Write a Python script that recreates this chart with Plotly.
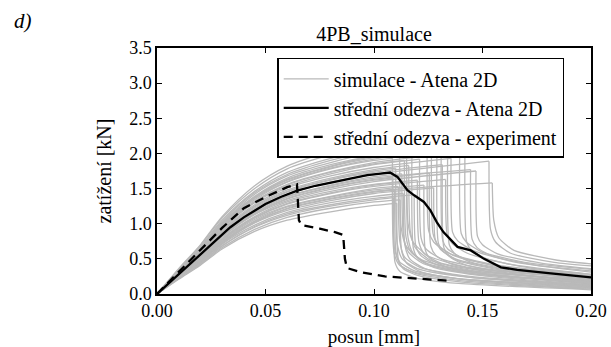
import plotly.graph_objects as go

# ---------------- data ----------------
RISE_X = [0, 0.01, 0.02, 0.03, 0.045, 0.06, 0.08, 0.10]

SIM_RISE_Y = [
    [0, 0.21, 0.41, 0.64, 0.89, 1.05, 1.17, 1.26],
    [0, 0.22, 0.42, 0.66, 0.92, 1.09, 1.22, 1.31],
    [0, 0.22, 0.43, 0.68, 0.95, 1.12, 1.25, 1.34],
    [0, 0.22, 0.44, 0.69, 0.96, 1.14, 1.27, 1.36],
    [0, 0.23, 0.45, 0.71, 0.98, 1.16, 1.30, 1.39],
    [0, 0.24, 0.46, 0.72, 1.01, 1.19, 1.33, 1.43],
    [0, 0.24, 0.47, 0.73, 1.02, 1.21, 1.35, 1.45],
    [0, 0.24, 0.47, 0.74, 1.03, 1.22, 1.36, 1.46],
    [0, 0.24, 0.48, 0.75, 1.04, 1.24, 1.38, 1.48],
    [0, 0.25, 0.48, 0.76, 1.06, 1.25, 1.39, 1.50],
    [0, 0.25, 0.50, 0.77, 1.08, 1.28, 1.43, 1.53],
    [0, 0.25, 0.50, 0.78, 1.09, 1.29, 1.44, 1.55],
    [0, 0.26, 0.51, 0.79, 1.10, 1.31, 1.46, 1.56],
    [0, 0.26, 0.52, 0.81, 1.13, 1.33, 1.49, 1.60],
    [0, 0.27, 0.52, 0.82, 1.14, 1.35, 1.51, 1.62],
    [0, 0.27, 0.53, 0.83, 1.15, 1.36, 1.52, 1.63],
    [0, 0.27, 0.53, 0.83, 1.16, 1.38, 1.54, 1.65],
    [0, 0.27, 0.54, 0.84, 1.18, 1.39, 1.55, 1.67],
    [0, 0.28, 0.55, 0.86, 1.20, 1.42, 1.59, 1.70],
    [0, 0.29, 0.56, 0.88, 1.22, 1.45, 1.62, 1.73],
    [0, 0.29, 0.57, 0.89, 1.24, 1.46, 1.63, 1.75],
    [0, 0.29, 0.57, 0.89, 1.25, 1.48, 1.65, 1.77],
    [0, 0.30, 0.58, 0.91, 1.27, 1.51, 1.68, 1.80],
    [0, 0.30, 0.59, 0.93, 1.30, 1.53, 1.71, 1.84],
    [0, 0.31, 0.60, 0.94, 1.31, 1.55, 1.73, 1.85],
    [0, 0.31, 0.61, 0.95, 1.32, 1.56, 1.74, 1.87],
    [0, 0.31, 0.62, 0.96, 1.34, 1.59, 1.78, 1.90],
    [0, 0.32, 0.62, 0.97, 1.36, 1.60, 1.79, 1.92],
    [0, 0.32, 0.63, 0.98, 1.37, 1.62, 1.81, 1.94],
    [0, 0.32, 0.63, 0.99, 1.38, 1.63, 1.82, 1.96],
    [0, 0.32, 0.64, 1.00, 1.39, 1.65, 1.84, 1.97],
    [0, 0.33, 0.65, 1.01, 1.42, 1.68, 1.87, 2.01],
    [0, 0.34, 0.66, 1.03, 1.44, 1.70, 1.90, 2.04],
    [0, 0.34, 0.67, 1.05, 1.46, 1.73, 1.93, 2.07],
    [0, 0.35, 0.69, 1.08, 1.50, 1.78, 1.98, 2.13],
    [0, 0.36, 0.70, 1.10, 1.54, 1.82, 2.03, 2.18],
]

SIM_DROP_X = [0.1105, 0.1120, 0.1090, 0.1185, 0.1135, 0.1275, 0.1095, 0.1545,
              0.1230, 0.1112, 0.1330, 0.1150, 0.1200, 0.1470, 0.1087, 0.1255,
              0.1445, 0.1128, 0.1530, 0.1315, 0.1100, 0.1160, 0.1355, 0.1210,
              0.1140, 0.1290, 0.1085, 0.1395, 0.1245, 0.1118, 0.1310, 0.1175,
              0.1340, 0.1265, 0.1420, 0.1150]

SIM_PEAK_Y = [1.29, 1.34, 1.37, 1.41, 1.43, 1.51, 1.48, 1.58,
              1.55, 1.53, 1.63, 1.60, 1.62, 1.75, 1.65, 1.72,
              1.77, 1.71, 1.89, 1.84, 1.79, 1.83, 1.93, 1.92,
              1.90, 1.98, 1.93, 2.08, 2.04, 2.01, 2.10, 2.08,
              2.18, 2.18, 2.31, 2.25]

# sample offsets after the drop (shared grid), plus the last point at x = 0.20
TAIL_DX = [0.0007, 0.003, 0.010, 0.030]
TAIL_END_X = 0.20

SIM_TAIL_Y = [
    [0.50, 0.36, 0.26, 0.17, 0.07],
    [0.62, 0.44, 0.31, 0.20, 0.09],
    [0.45, 0.32, 0.23, 0.15, 0.06],
    [0.70, 0.55, 0.42, 0.30, 0.15],
    [0.70, 0.50, 0.36, 0.24, 0.11],
    [0.78, 0.64, 0.50, 0.36, 0.22],
    [0.58, 0.40, 0.29, 0.19, 0.08],
    [1.05, 0.80, 0.62, 0.48, 0.43],
    [0.62, 0.50, 0.39, 0.28, 0.14],
    [0.75, 0.52, 0.38, 0.26, 0.13],
    [0.85, 0.72, 0.58, 0.42, 0.28],
    [0.80, 0.58, 0.42, 0.29, 0.15],
    [0.74, 0.58, 0.45, 0.33, 0.18],
    [0.82, 0.70, 0.57, 0.44, 0.36],
    [0.66, 0.46, 0.33, 0.22, 0.10],
    [0.68, 0.55, 0.43, 0.31, 0.17],
    [0.78, 0.66, 0.54, 0.41, 0.33],
    [0.85, 0.60, 0.43, 0.30, 0.16],
    [0.92, 0.74, 0.58, 0.45, 0.40],
    [0.66, 0.54, 0.42, 0.30, 0.18],
    [0.72, 0.50, 0.36, 0.25, 0.12],
    [0.90, 0.66, 0.48, 0.33, 0.19],
    [0.88, 0.76, 0.62, 0.45, 0.31],
    [0.80, 0.64, 0.50, 0.36, 0.21],
    [0.82, 0.60, 0.44, 0.31, 0.17],
    [0.72, 0.60, 0.47, 0.34, 0.21],
    [0.60, 0.42, 0.31, 0.22, 0.11],
    [0.86, 0.74, 0.60, 0.45, 0.35],
    [0.90, 0.74, 0.58, 0.42, 0.26],
    [0.95, 0.68, 0.49, 0.34, 0.20],
    [0.76, 0.64, 0.51, 0.37, 0.24],
    [0.64, 0.50, 0.38, 0.27, 0.13],
    [0.70, 0.58, 0.46, 0.34, 0.22],
    [0.86, 0.70, 0.55, 0.40, 0.25],
    [0.74, 0.62, 0.50, 0.37, 0.28],
    [1.00, 0.74, 0.54, 0.37, 0.22],
]

MEAN_X = [0, 0.01, 0.02, 0.0277, 0.0338, 0.04, 0.05, 0.057, 0.0646, 0.073,
          0.0815, 0.089, 0.0969, 0.102, 0.1074, 0.1108, 0.1154, 0.1185, 0.123,
          0.126, 0.129, 0.132, 0.1354, 0.1385, 0.1446, 0.1507, 0.1585, 0.166,
          0.1815, 0.2]
MEAN_Y = [0, 0.28, 0.55, 0.78, 0.95, 1.09, 1.28, 1.38, 1.47, 1.54,
          1.594, 1.645, 1.69, 1.71, 1.728, 1.666, 1.476, 1.404, 1.31,
          1.19, 1.02, 0.88, 0.77, 0.67, 0.62, 0.50, 0.38, 0.343,
          0.295, 0.237]

EXP_X = [0, 0.01, 0.02, 0.03, 0.04, 0.05, 0.06, 0.0645, 0.0654, 0.0665,
         0.075, 0.082, 0.0858, 0.0866, 0.0875, 0.094, 0.105, 0.12, 0.134]
EXP_Y = [0, 0.31, 0.62, 0.94, 1.22, 1.38, 1.52, 1.56, 1.05, 0.98,
         0.93, 0.88, 0.84, 0.50, 0.37, 0.31, 0.25, 0.215, 0.19]

TITLE = "4PB_simulace"
X_LABEL = "posun [mm]"
Y_LABEL = "zatížení [kN]"
NAMES = ["simulace - Atena 2D", "střední odezva - Atena 2D", "střední odezva - experiment"]
X_TICKS = [0.00, 0.05, 0.10, 0.15, 0.20]
Y_TICKS = [0.0, 0.5, 1.0, 1.5, 2.0, 2.5, 3.0, 3.5]

# ---------------- figure ----------------
FONT = "Liberation Serif, Times New Roman, Nimbus Roman, serif"
GRAY = "#b9b9b9"

fig = go.Figure()

for i, ry in enumerate(SIM_RISE_Y):
    xd = SIM_DROP_X[i]
    yp = SIM_PEAK_Y[i]
    rx = [x for x in RISE_X if x < xd] + [xd]
    ryy = ry[:len(rx) - 1] + [yp]
    fig.add_trace(go.Scatter(
        x=rx, y=ryy, mode="lines",
        line=dict(color=GRAY, width=1.3, shape="spline", smoothing=0.8),
        name=NAMES[0], showlegend=(i == 0), hoverinfo="skip"))
    tx = [xd] + [xd + d for d in TAIL_DX] + [TAIL_END_X]
    ty = [yp] + SIM_TAIL_Y[i]
    fig.add_trace(go.Scatter(
        x=tx, y=ty, mode="lines",
        line=dict(color=GRAY, width=1.3, shape="spline", smoothing=0.6),
        showlegend=False, hoverinfo="skip"))

fig.add_trace(go.Scatter(
    x=MEAN_X, y=MEAN_Y, mode="lines",
    line=dict(color="black", width=2.3),
    name=NAMES[1]))

fig.add_trace(go.Scatter(
    x=EXP_X, y=EXP_Y, mode="lines",
    line=dict(color="black", width=2.3, dash="9px,6px"),
    name=NAMES[2]))

axis_common = dict(
    showline=True, linecolor="black", linewidth=1.5, mirror="ticks",
    ticks="inside", ticklen=5, tickwidth=1, tickcolor="black",
    showgrid=False, zeroline=False, automargin=False,
    tickfont=dict(family=FONT, size=18, color="black"),
)

fig.update_xaxes(range=[0, 0.2], tickvals=X_TICKS,
                 ticktext=[f"{v:.2f}" for v in X_TICKS],
                 title=dict(text=X_LABEL, font=dict(family=FONT, size=19, color="black"), standoff=10),
                 **axis_common)
fig.update_yaxes(range=[0, 3.5], tickvals=Y_TICKS,
                 ticktext=[f"{v:.1f}" for v in Y_TICKS],
                 title=dict(text=Y_LABEL, font=dict(family=FONT, size=20, color="black"), standoff=12),
                 **axis_common)

fig.update_layout(
    width=611, height=347,
    margin=dict(l=157, r=20, t=48, b=53),
    paper_bgcolor="white", plot_bgcolor="white",
    font=dict(family=FONT, color="black"),
    title=dict(text=TITLE, font=dict(family=FONT, size=20, color="black"),
               x=0.5, xref="paper", xanchor="center",
               y=1 - 34 / 347, yref="container", yanchor="middle"),
    legend=dict(x=0.277, y=0.96, xanchor="left", yanchor="top",
                bgcolor="white", bordercolor="black", borderwidth=1.5,
                tracegroupgap=0, itemwidth=45,
                font=dict(family=FONT, size=20, color="black")),
    showlegend=True,
    annotations=[dict(text="<i>d)</i>", xref="paper", yref="paper",
                      x=(12 - 157) / 434, y=(294 - 21) / 246,
                      xanchor="left", yanchor="middle", showarrow=False,
                      font=dict(family=FONT, size=21, color="black"))],
)

fig.write_html("out.html", post_script="document.body.style.margin='0px';",
               config={"displayModeBar": False})
